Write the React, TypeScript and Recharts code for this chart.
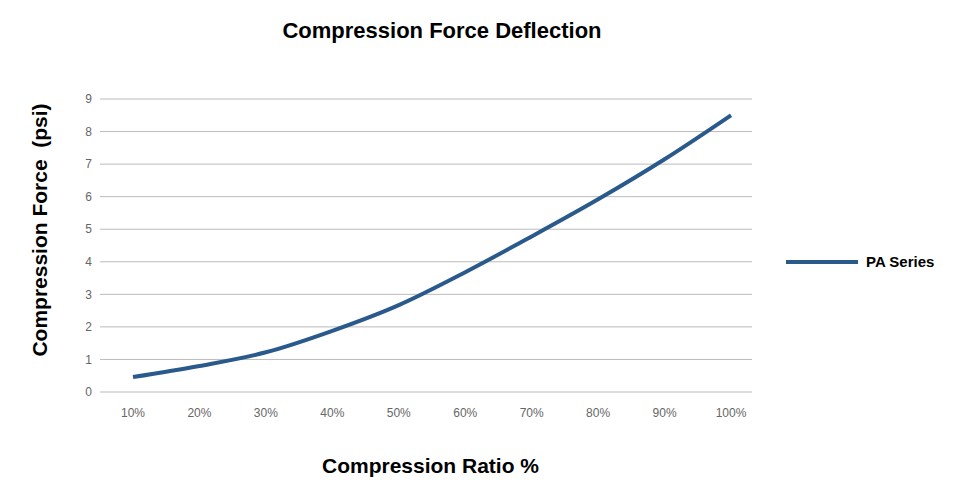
import { CartesianGrid, Line, LineChart, XAxis, YAxis } from "recharts";

const ratios = ["10%", "20%", "30%", "40%", "50%", "60%", "70%", "80%", "90%", "100%"];
const force = [0.46, 0.8, 1.22, 1.88, 2.67, 3.68, 4.78, 5.92, 7.15, 8.5];
const yTicks = [0, 1, 2, 3, 4, 5, 6, 7, 8, 9];

const data = ratios.map((r, i) => ({ ratio: r, pa: force[i] }));
const font = "'Liberation Sans', Arial, sans-serif";

export default function App() {
  return (
    <div style={{ position: "relative", width: 965, height: 485, fontFamily: font }}>
      <div style={{ position: "absolute", left: 0, width: 868, top: 10, textAlign: "center", fontWeight: "bold", fontSize: 22 }}>
        Compression Force Deflection
      </div>
      <LineChart width={965} height={485} data={data} margin={{ top: 91, right: 221, bottom: 71, left: 52 }}>
        <CartesianGrid vertical={false} stroke="#bbb" />
        <XAxis dataKey="ratio" axisLine={false} tickLine={false} padding={{ left: 33, right: 21 }}
          tick={{ fill: "#666", fontSize: 12, fontFamily: font }} height={30} tickMargin={10} />
        <YAxis domain={[0, 9]} ticks={yTicks} axisLine={false} tickLine={false} width={40}
          tick={{ fill: "#666", fontSize: 12, fontFamily: font }} />
        <Line dataKey="pa" type="monotone" stroke="#2a5a8c" strokeWidth={4} dot={false} isAnimationActive={false} />
      </LineChart>
      <div style={{ position: "absolute", left: 0, width: 845, top: 446, textAlign: "center", fontWeight: "bold", fontSize: 21 }}>
        Compression Ratio %
      </div>
      <div style={{ position: "absolute", left: 32, top: 222, transform: "translate(-50%,-50%) rotate(-90deg)", whiteSpace: "pre", fontWeight: "bold", fontSize: 21 }}>
        {"Compression Force  (psi)"}
      </div>
      <div style={{ position: "absolute", left: 778, top: 245, display: "flex", alignItems: "center", fontWeight: "bold", fontSize: 15 }}>
        <span style={{ display: "inline-block", width: 72, height: 4, background: "#2a5a8c", marginRight: 8 }} />
        PA Series
      </div>
    </div>
  );
}
